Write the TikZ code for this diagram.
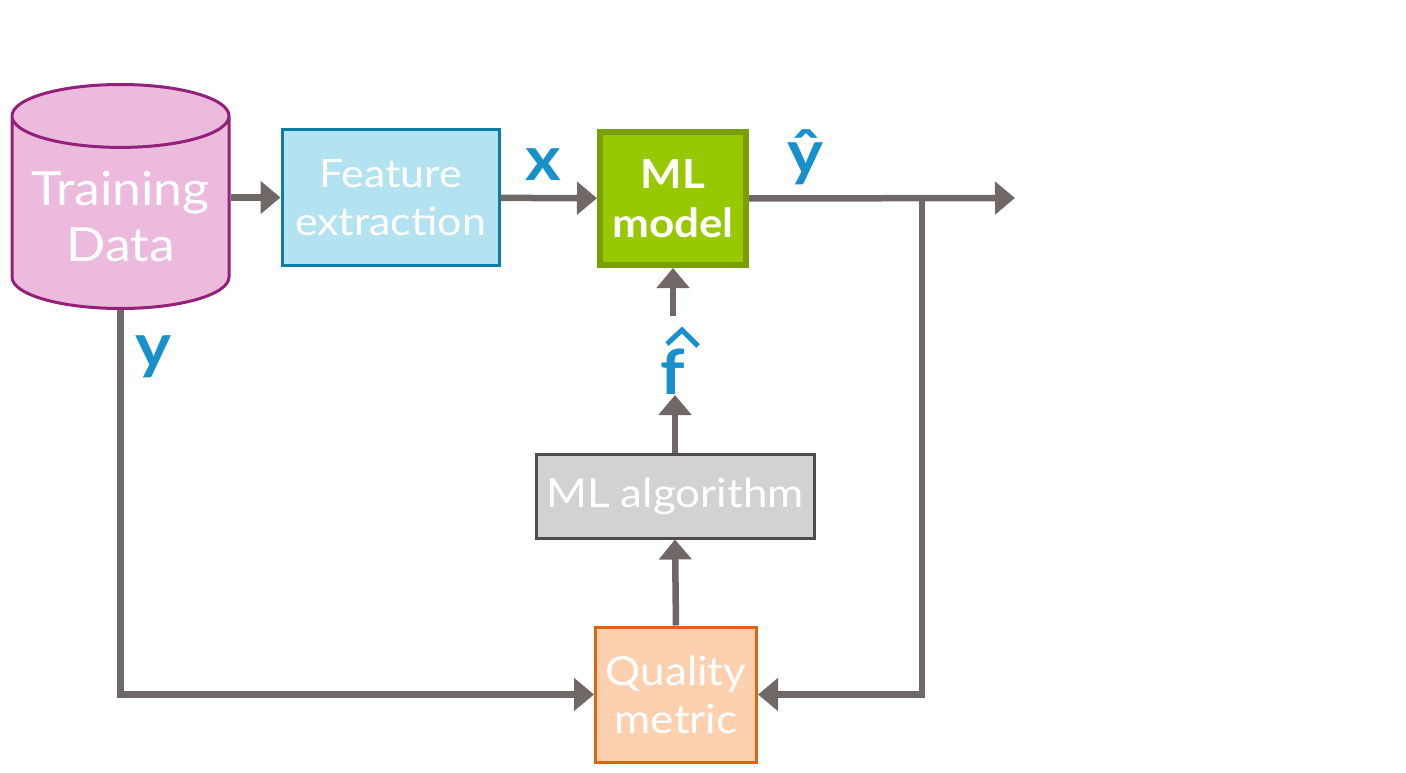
\documentclass[tikz,border=0pt]{standalone}
\usepackage{fontspec}
\setmainfont{Lato}[FakeStretch=1.1]
\usetikzlibrary{arrows.meta,shapes.geometric,shadows}

\definecolor{pinkfill}{HTML}{EBBADD}
\definecolor{pinkline}{HTML}{93217A}
\definecolor{bluefill}{HTML}{B3E2F1}
\definecolor{blueline}{HTML}{0E7CA6}
\definecolor{greenfill}{HTML}{98C800}
\definecolor{greenline}{HTML}{78A100}
\definecolor{grayfill}{HTML}{D3D2D1}
\definecolor{grayline}{HTML}{4F4C4B}
\definecolor{peachfill}{HTML}{FDD1B0}
\definecolor{peachline}{HTML}{DE6410}
\definecolor{wire}{HTML}{6F6867}
\definecolor{labelblue}{HTML}{1790CB}

\tikzset{
  box/.style={draw, line width=3pt, text=white, align=center, inner sep=0pt},
  conn/.style={draw=wire, line width=6.5pt,
    -{Triangle[length=20pt,width=32pt]}},
  wirelabel/.style={text=labelblue, font=\fontsize{62}{70}\selectfont\bfseries, inner sep=0pt}
}

\begin{document}
\begin{tikzpicture}[x=1pt,y=-1pt]

\useasboundingbox (0,0) rectangle (1406,773);

% blocks
\node[cylinder, shape border rotate=90, aspect=0.34, draw=pinkline, line width=3pt,
  fill=pinkfill, minimum width=217pt, minimum height=224pt, text=white, align=center,
  font=\fontsize{47}{56}\selectfont, anchor=south] (data) at (120.5,310) {Training\\Data};

\node[box, draw=blueline, fill=bluefill, minimum width=217pt, minimum height=135pt,
  font=\fontsize{39}{48}\selectfont] (feat) at (390.5,197.5) {Feature\\extraction};

\node[box, draw=greenline, fill=greenfill, line width=6pt, minimum width=146pt,
  minimum height=133pt, font=\fontsize{40}{49}\selectfont\bfseries,
  drop shadow={opacity=0.25, shadow xshift=3pt, shadow yshift=-3pt}]
  (model) at (673,198.5) {ML\\model};

\node[box, draw=grayline, fill=grayfill, minimum width=278pt, minimum height=84pt,
  font=\fontsize{40}{48}\selectfont] (algo) at (675,496) {ML algorithm};

\node[box, draw=peachline, fill=peachfill, minimum width=161pt, minimum height=135pt,
  font=\fontsize{40}{48}\selectfont] (qual) at (676,694.5) {Quality\\metric};

% labels
\node[wirelabel] (lx) at (543,165) {x};
\node[wirelabel] (lyhat) at (805,157) {ŷ};
\node[wirelabel] (ly) at (153,357) {y};
\node[wirelabel, anchor=south] (lfhat) at (673,395) {f};
\draw[labelblue, line width=5pt] ([xshift=-6pt,yshift=5pt]lfhat.north)
  -- ([xshift=9pt,yshift=19pt]lfhat.north) -- ([xshift=25pt,yshift=3pt]lfhat.north);

\coordinate (out) at (1015,198);
\coordinate (split) at (922,198);

% connectors
\draw[conn] (feat.west -| data.east) -- (feat.west);
\draw[conn] (feat) -- (model);
\draw[conn] (model.east) -- (out);
\draw[conn] (split) |- (qual.east);
\draw[conn] (data.south) |- (qual.west);
\draw[conn] (qual.north) -- (algo.south);
\draw[conn] (algo.north) -- (algo.north |- lfhat.south);
\draw[conn] ([yshift=33pt]lfhat.north -| model.south) -- (model.south);

\end{tikzpicture}
\end{document}
